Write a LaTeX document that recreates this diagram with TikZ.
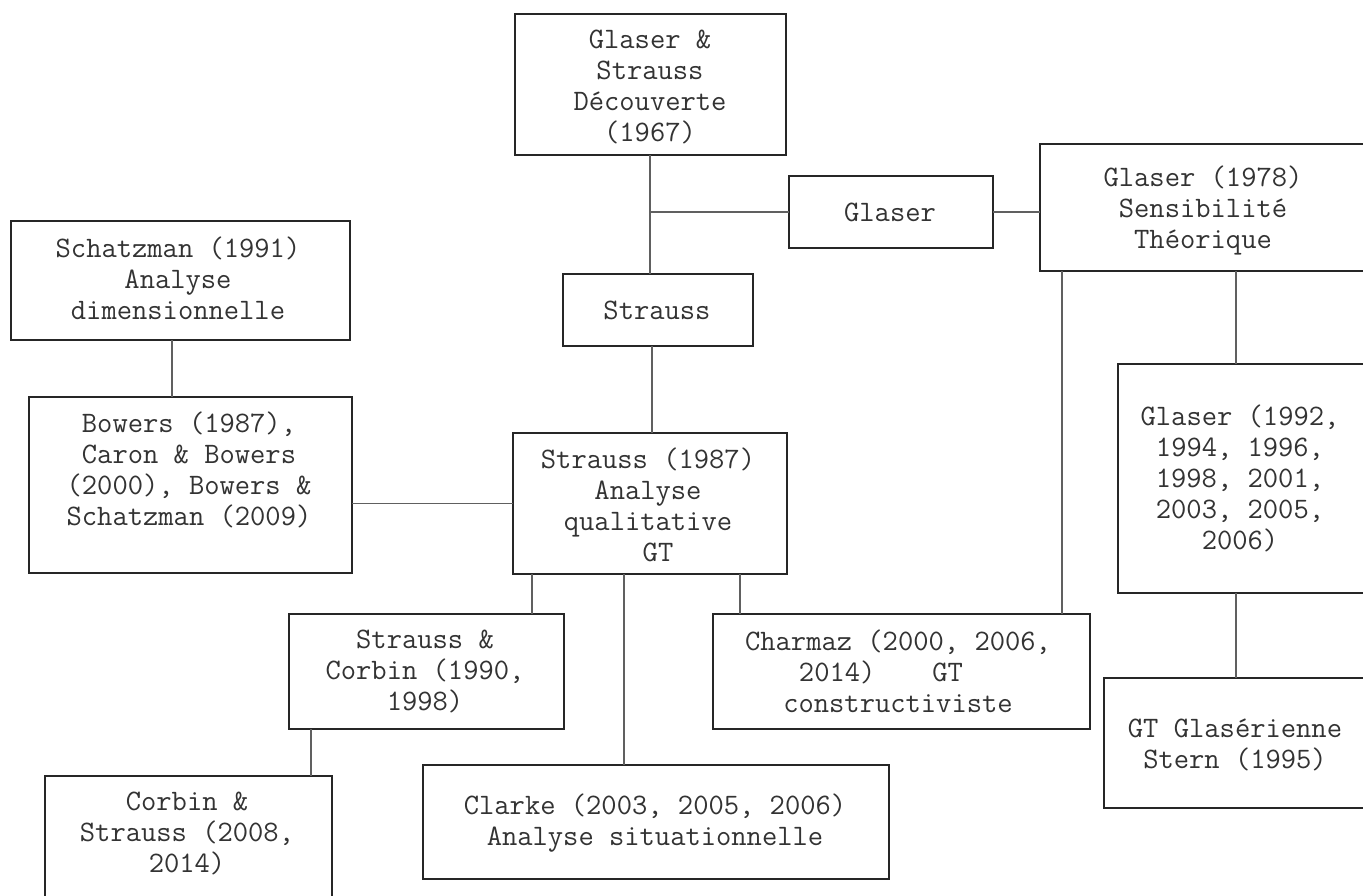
\documentclass[tikz,border=0pt]{standalone}
\usepackage{fontspec}
\definecolor{ink}{HTML}{333333}
\definecolor{frame}{HTML}{262626}
\definecolor{wire}{HTML}{606060}
\begin{document}
\begin{tikzpicture}[x=1pt,y=-1pt,
  box/.style={draw=frame, line width=2.4pt, fill=white, inner sep=0pt, outer sep=0pt},
  txt/.style={text=ink, align=center, inner sep=0pt, font=\ttfamily\fontsize{29.7}{31}\selectfont},
  wirel/.style={draw=wire, line width=1.3pt}]
\path[use as bounding box] (0,0) rectangle (1363,895);
\clip (0,0) rectangle (1363,895);
\fill[white] (0,0) rectangle (1363,895);

% x positions of the vertical connectors
\coordinate (xa) at (650,0);
\coordinate (xb) at (652,0);
\coordinate (xc) at (172,0);
\coordinate (xd) at (532,0);
\coordinate (xe) at (624,0);
\coordinate (xf) at (740,0);
\coordinate (xg) at (1062,0);
\coordinate (xh) at (1236,0);
\coordinate (xi) at (311,0);

% boxes
\node[box, minimum width=271pt, minimum height=141pt] (gs) at (650.5,84.5) {};
\node[box, minimum width=204pt, minimum height=72pt] (glaser) at (891,212) {};
\node[box, minimum width=330pt, minimum height=127pt] (g78) at (1205,207.5) {};
\node[box, minimum width=339pt, minimum height=119pt] (schatz) at (180.5,280.5) {};
\node[box, minimum width=190pt, minimum height=72pt] (strauss) at (658,310) {};
\node[box, minimum width=323pt, minimum height=176pt] (bowers) at (190.5,485) {};
\node[box, minimum width=274pt, minimum height=141pt] (s87) at (650,503.5) {};
\node[box, minimum width=275pt, minimum height=115pt] (sc) at (426.5,671.5) {};
\node[box, minimum width=377pt, minimum height=115pt] (charmaz) at (901.5,671.5) {};
\node[box, minimum width=252pt, minimum height=229pt] (g92) at (1244,478.5) {};
\node[box, minimum width=266pt, minimum height=130pt] (gtg) at (1237,743) {};
\node[box, minimum width=287pt, minimum height=134pt] (cs) at (188.5,843) {};
\node[box, minimum width=466pt, minimum height=114pt] (clarke) at (656,822) {};

% connectors
\draw[wirel] (gs.south -| xa) -- (strauss.north -| xa);
\draw[wirel] (glaser.west -| xa) -- (glaser.west);
\draw[wirel] (glaser.east) -- (g78.west |- glaser.east);
\draw[wirel] (strauss.south -| xb) -- (s87.north -| xb);
\draw[wirel] (schatz.south -| xc) -- (bowers.north -| xc);
\draw[wirel] (bowers.east |- s87.west) -- (s87.west);
\draw[wirel] (s87.south -| xd) -- (sc.north -| xd);
\draw[wirel] (s87.south -| xe) -- (clarke.north -| xe);
\draw[wirel] (s87.south -| xf) -- (charmaz.north -| xf);
\draw[wirel] (g78.south -| xg) -- (charmaz.north -| xg);
\draw[wirel] (g78.south -| xh) -- (g92.north -| xh);
\draw[wirel] (g92.south -| xh) -- (gtg.north -| xh);
\draw[wirel] (sc.south -| xi) -- (cs.north -| xi);

% labels
\node[txt] (gs-t) at (650,87) {Glaser \&\\Strauss\\Découverte\\(1967)};
\node[txt] (glaser-t) at (890,212) {Glaser};
\node[txt] (g78-t) at (1203,210) {Glaser (1978)\\Sensibilité\\Théorique};
\node[txt] (schatz-t) at (178,278) {Schatzman (1991)\\Analyse\\dimensionnelle};
\node[txt] (strauss-t) at (657,310) {Strauss};
\node[txt] (bowers-t) at (189,470) {Bowers (1987),\\Caron \& Bowers\\(2000), Bowers \&\\Schatzman (2009)};
\node[txt] (s87-t) at (648,505) {Strauss (1987)\\Analyse\\qualitative\\\hspace*{20pt}GT};
\node[txt] (sc-t) at (425,671) {Strauss \&\\Corbin (1990,\\1998)};
\node[txt] (charmaz-t) at (898,671) {Charmaz (2000, 2006,\\\hspace*{-34pt}2014)\hspace{57pt}GT\\constructiviste};
\node[txt] (g92-t) at (1240,478) {Glaser (1992,\\1994, 1996,\\1998, 2001,\\2003, 2005,\\2006)};
\node[txt] (gtg-t) at (1235,745) {GT Glasérienne\\Stern (1995)};
\node[txt] (cs-t) at (187,833) {Corbin \&\\Strauss (2008,\\2014)};
\node[txt] (clarke-t) at (655,823) {Clarke (2003, 2005, 2006)\\Analyse situationnelle};
\end{tikzpicture}
\end{document}
